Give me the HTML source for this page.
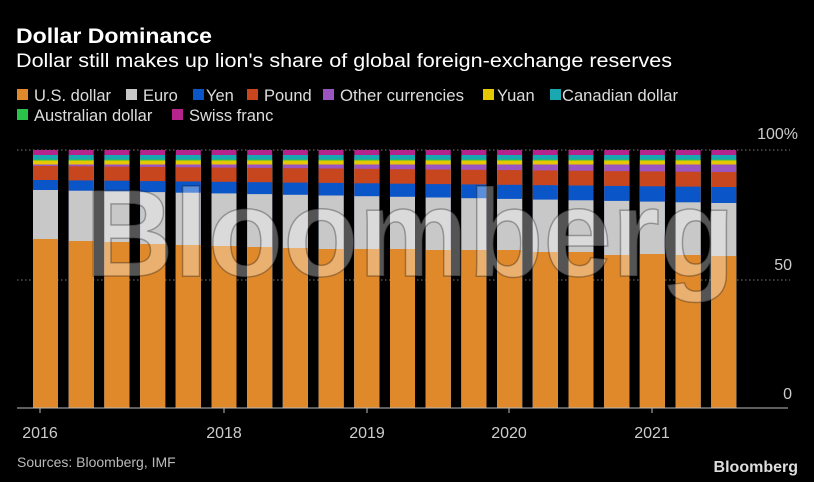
<!DOCTYPE html>
<html><head><meta charset="utf-8"><style>
html,body{margin:0;padding:0;background:#000;}
svg{display:block;}
text{font-family:"Liberation Sans",sans-serif;}
</style></head><body>
<svg width="814" height="482" viewBox="0 0 814 482" xmlns="http://www.w3.org/2000/svg">
<rect width="814" height="482" fill="#000"/>
<text x="16" y="43" font-size="21" font-weight="bold" fill="#fff" textLength="196" lengthAdjust="spacingAndGlyphs">Dollar Dominance</text>
<text x="16" y="67" font-size="19" fill="#fff" textLength="656" lengthAdjust="spacingAndGlyphs">Dollar still makes up lion's share of global foreign-exchange reserves</text>
<g font-size="16.5" fill="#ddd">
<rect x="17" y="89" width="11" height="11" fill="#e0892a"/><text x="34" y="101">U.S. dollar</text>
<rect x="126" y="89" width="11" height="11" fill="#c8c8c8"/><text x="143" y="101">Euro</text>
<rect x="193" y="89" width="11" height="11" fill="#0a55c8"/><text x="206" y="101">Yen</text>
<rect x="247" y="89" width="11" height="11" fill="#c8461e"/><text x="264" y="101">Pound</text>
<rect x="323" y="89" width="11" height="11" fill="#9a55c0"/><text x="340" y="101" textLength="124" lengthAdjust="spacingAndGlyphs">Other currencies</text>
<rect x="483" y="89" width="11" height="11" fill="#e6c800"/><text x="497" y="101">Yuan</text>
<rect x="550" y="89" width="11" height="11" fill="#1aa8b0"/><text x="562" y="101" textLength="116" lengthAdjust="spacingAndGlyphs">Canadian dollar</text>
<rect x="17" y="109" width="11" height="11" fill="#2bc24a"/><text x="34" y="121">Australian dollar</text>
<rect x="172" y="109" width="11" height="11" fill="#b4248c"/><text x="189" y="121">Swiss franc</text>
</g>
<line x1="17" y1="150" x2="790" y2="150" stroke="#777" stroke-dasharray="1.5,2.5"/>
<line x1="17" y1="280" x2="790" y2="280" stroke="#777" stroke-dasharray="1.5,2.5"/>
<g fill="none" stroke-dasharray="25,10.7">
<line x1="33" y1="279" x2="737" y2="279" stroke="#b4248c" stroke-width="258"/>
<line x1="33" y1="281.5" x2="737" y2="281.5" stroke="#1aa8b0" stroke-width="253"/>
<line x1="33" y1="283.75" x2="737" y2="283.75" stroke="#2bc24a" stroke-width="248.5"/>
<line x1="33" y1="284.25" x2="737" y2="284.25" stroke="#e6c800" stroke-width="247.5"/>
<line x1="33" y1="286.25" x2="737" y2="286.25" stroke="#9a55c0" stroke-width="243.5"/>
</g>
<g fill="#c8461e">
<rect x="33" y="166" width="25" height="242"/><rect x="68.7" y="166.3" width="25" height="242"/><rect x="104.4" y="166.6" width="25" height="242"/><rect x="140.1" y="166.9" width="25" height="242"/><rect x="175.8" y="167.3" width="25" height="242"/><rect x="211.5" y="167.6" width="25" height="242"/><rect x="247.2" y="167.9" width="25" height="242"/><rect x="282.9" y="168.2" width="25" height="242"/><rect x="318.6" y="168.5" width="25" height="242"/><rect x="354.3" y="168.8" width="25" height="242"/><rect x="390" y="169.2" width="25" height="242"/><rect x="425.7" y="169.5" width="25" height="242"/><rect x="461.4" y="169.8" width="25" height="242"/><rect x="497.1" y="170.1" width="25" height="242"/><rect x="532.8" y="170.4" width="25" height="242"/><rect x="568.5" y="170.7" width="25" height="242"/><rect x="604.2" y="171.1" width="25" height="242"/><rect x="639.9" y="171.4" width="25" height="242"/><rect x="675.6" y="171.7" width="25" height="242"/><rect x="711.3" y="172" width="25" height="242"/>
</g>
<g fill="#0a55c8">
<rect x="33" y="180" width="25" height="228"/><rect x="68.7" y="180.4" width="25" height="228"/><rect x="104.4" y="180.7" width="25" height="228"/><rect x="140.1" y="181.1" width="25" height="228"/><rect x="175.8" y="181.5" width="25" height="228"/><rect x="211.5" y="181.8" width="25" height="228"/><rect x="247.2" y="182.2" width="25" height="228"/><rect x="282.9" y="182.6" width="25" height="228"/><rect x="318.6" y="182.9" width="25" height="228"/><rect x="354.3" y="183.3" width="25" height="228"/><rect x="390" y="183.7" width="25" height="228"/><rect x="425.7" y="184.1" width="25" height="228"/><rect x="461.4" y="184.4" width="25" height="228"/><rect x="497.1" y="184.8" width="25" height="228"/><rect x="532.8" y="185.2" width="25" height="228"/><rect x="568.5" y="185.5" width="25" height="228"/><rect x="604.2" y="185.9" width="25" height="228"/><rect x="639.9" y="186.3" width="25" height="228"/><rect x="675.6" y="186.6" width="25" height="228"/><rect x="711.3" y="187" width="25" height="228"/>
</g>
<g fill="#c8c8c8">
<rect x="33" y="190" width="25" height="218"/><rect x="68.7" y="190.7" width="25" height="218"/><rect x="104.4" y="191.4" width="25" height="218"/><rect x="140.1" y="192.1" width="25" height="218"/><rect x="175.8" y="192.7" width="25" height="218"/><rect x="211.5" y="193.4" width="25" height="218"/><rect x="247.2" y="194.1" width="25" height="218"/><rect x="282.9" y="194.8" width="25" height="218"/><rect x="318.6" y="195.5" width="25" height="218"/><rect x="354.3" y="196.2" width="25" height="218"/><rect x="390" y="196.8" width="25" height="218"/><rect x="425.7" y="197.5" width="25" height="218"/><rect x="461.4" y="198.2" width="25" height="218"/><rect x="497.1" y="198.9" width="25" height="218"/><rect x="532.8" y="199.6" width="25" height="218"/><rect x="568.5" y="200.3" width="25" height="218"/><rect x="604.2" y="200.9" width="25" height="218"/><rect x="639.9" y="201.6" width="25" height="218"/><rect x="675.6" y="202.3" width="25" height="218"/><rect x="711.3" y="203" width="25" height="218"/>
</g>
<g fill="#e0892a">
<rect x="33" y="239" width="25" height="169"/><rect x="68.7" y="241" width="25" height="167"/><rect x="104.4" y="242" width="25" height="166"/><rect x="140.1" y="244" width="25" height="164"/><rect x="175.8" y="245" width="25" height="163"/><rect x="211.5" y="246" width="25" height="162"/><rect x="247.2" y="247" width="25" height="161"/><rect x="282.9" y="248" width="25" height="160"/><rect x="318.6" y="249" width="25" height="159"/><rect x="354.3" y="249" width="25" height="159"/><rect x="390" y="249" width="25" height="159"/><rect x="425.7" y="250" width="25" height="158"/><rect x="461.4" y="250" width="25" height="158"/><rect x="497.1" y="250" width="25" height="158"/><rect x="532.8" y="252" width="25" height="156"/><rect x="568.5" y="252" width="25" height="156"/><rect x="604.2" y="255" width="25" height="153"/><rect x="639.9" y="254" width="25" height="154"/><rect x="675.6" y="255" width="25" height="153"/><rect x="711.3" y="256" width="25" height="152"/>
</g>
<rect x="0" y="408" width="814" height="20" fill="#000"/>
<text x="410" y="276" font-size="124" font-weight="bold" text-anchor="middle" fill="#fff" fill-opacity="0.33" stroke="#000" stroke-opacity="0.3" stroke-width="1.5" textLength="650" lengthAdjust="spacingAndGlyphs">Bloomberg</text>
<line x1="17" y1="408" x2="788" y2="408" stroke="#bbb" stroke-width="1"/>
<g stroke="#bbb"><line x1="40" y1="408" x2="40" y2="413"/><line x1="224" y1="408" x2="224" y2="413"/><line x1="367" y1="408" x2="367" y2="413"/><line x1="509" y1="408" x2="509" y2="413"/><line x1="652" y1="408" x2="652" y2="413"/></g>
<g font-size="16" fill="#ccc" text-anchor="middle">
<text x="40" y="438">2016</text><text x="224" y="438">2018</text><text x="367" y="438">2019</text><text x="509" y="438">2020</text><text x="652" y="438">2021</text>
</g>
<g font-size="16" fill="#ccc" text-anchor="end">
<text x="798" y="139">100%</text><text x="792" y="270">50</text><text x="792" y="399">0</text>
</g>
<text x="17" y="467" font-size="14" fill="#bbb" font-family="Liberation Mono, monospace">Sources: Bloomberg, IMF</text>
<text x="798" y="472" font-size="16" font-weight="bold" fill="#ddd" text-anchor="end">Bloomberg</text>
</svg>
</body></html>
